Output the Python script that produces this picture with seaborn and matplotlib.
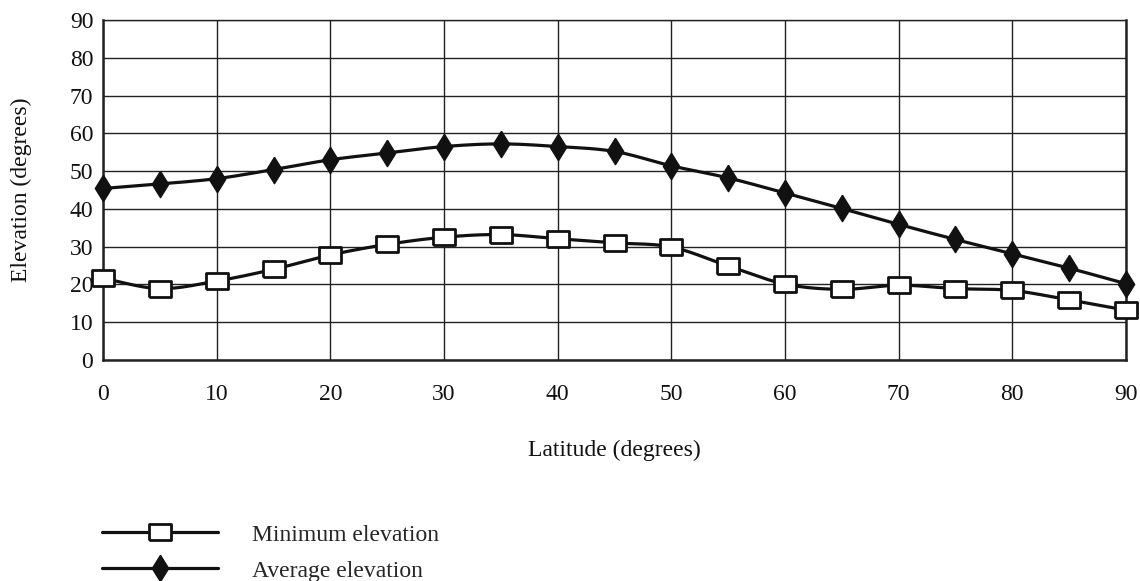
import numpy as np
import pandas as pd
import matplotlib
matplotlib.use("Agg")
import matplotlib.pyplot as plt
import seaborn as sns

# Latitude values (degrees)
latitude = [0, 5, 10, 15, 20, 25, 30, 35, 40, 45, 50, 55, 60, 65, 70, 75, 80, 85, 90]

# Elevation readings (degrees)
min_elevation = [21.6, 18.9, 20.9, 24.0, 27.8, 30.6, 32.5, 33.2, 32.1, 31.0, 29.9,
                 24.9, 20.1, 18.7, 19.8, 18.9, 18.4, 15.9, 13.2]
avg_elevation = [45.4, 46.6, 48.0, 50.4, 53.0, 54.8, 56.5, 57.2, 56.5, 55.2, 51.4,
                 48.2, 44.2, 40.1, 35.9, 31.9, 28.1, 24.3, 20.2]

series_names = ["Minimum elevation", "Average elevation"]


def smooth(x, y, steps=20):
    # Catmull-Rom curve through the points, like a smoothed spreadsheet line
    x = np.asarray(x, float)
    y = np.asarray(y, float)
    px = np.concatenate([[2 * x[0] - x[1]], x, [2 * x[-1] - x[-2]]])
    py = np.concatenate([[2 * y[0] - y[1]], y, [2 * y[-1] - y[-2]]])
    t = np.linspace(0, 1, steps, endpoint=False)
    xs, ys = [], []
    for i in range(1, len(px) - 2):
        for p, out in ((px, xs), (py, ys)):
            p0, p1, p2, p3 = p[i - 1], p[i], p[i + 1], p[i + 2]
            out.extend(0.5 * (2 * p1 + (-p0 + p2) * t
                              + (2 * p0 - 5 * p1 + 4 * p2 - p3) * t ** 2
                              + (-p0 + 3 * p1 - 3 * p2 + p3) * t ** 3))
    xs.append(x[-1])
    ys.append(y[-1])
    return np.array(xs), np.array(ys)


sns.set_style("white")
plt.rcParams["font.family"] = ["Liberation Serif", "DejaVu Serif"]

fig = plt.figure(figsize=(11.4, 5.81), dpi=100)
ax = fig.add_axes([0.0904, 0.3804, 0.8973, 0.5852])

rect = [(-1, -0.7), (1, -0.7), (1, 0.7), (-1, 0.7), (-1, -0.7)]
diamond = [(0, 1), (0.62, 0), (0, -1), (-0.62, 0), (0, 1)]
styles = {
    "Minimum elevation": dict(marker=rect, markersize=16.5, markerfacecolor="white"),
    "Average elevation": dict(marker=diamond, markersize=19, markerfacecolor="#111111",
                              markeredgewidth=1),
}

for name, vals in zip(series_names, [min_elevation, avg_elevation]):
    sx, sy = smooth(latitude, vals)
    sns.lineplot(x=sx, y=sy, ax=ax, color="#111111", linewidth=2.3,
                 sort=False, legend=False, zorder=3)
    kw = dict(markeredgewidth=2)
    kw.update(styles[name])
    sns.lineplot(x=latitude, y=vals, ax=ax, linestyle="none",
                 markeredgecolor="#111111", legend=False, zorder=4,
                 clip_on=False, **kw)

ax.set_xlim(0, 90)
ax.set_ylim(0, 90)
ax.set_xticks(range(0, 91, 10))
ax.set_yticks(range(0, 91, 10))
ax.grid(True, color="#222222", linewidth=1)
for s in ax.spines.values():
    s.set_color("#222222")
    s.set_linewidth(1)
ax.spines["left"].set_linewidth(1.8)
ax.spines["bottom"].set_linewidth(1.8)
ax.spines["right"].set_linewidth(1.8)
ax.tick_params(axis="x", length=0, pad=17, labelsize=17, colors="#111111")
ax.tick_params(axis="y", length=0, pad=7, labelsize=17, colors="#111111")
ax.set_xlabel("Latitude (degrees)", fontsize=17, labelpad=25, color="#111111")
ax.set_ylabel("Elevation (degrees)", fontsize=17, labelpad=27, color="#111111")

handles = []
for n in series_names:
    kw = dict(markeredgewidth=2)
    kw.update(styles[n])
    handles.append(plt.Line2D([], [], color="#111111", linewidth=2.3,
                              markeredgecolor="#111111", **kw))
fig.legend(handles, series_names, loc="upper left", bbox_to_anchor=(0.0895, 1 - 524 / 581),
           frameon=False, fontsize=17, handlelength=4.9, handletextpad=1.45,
           labelspacing=0.62, borderaxespad=0, borderpad=0)

fig.savefig("out.png", dpi=100)
